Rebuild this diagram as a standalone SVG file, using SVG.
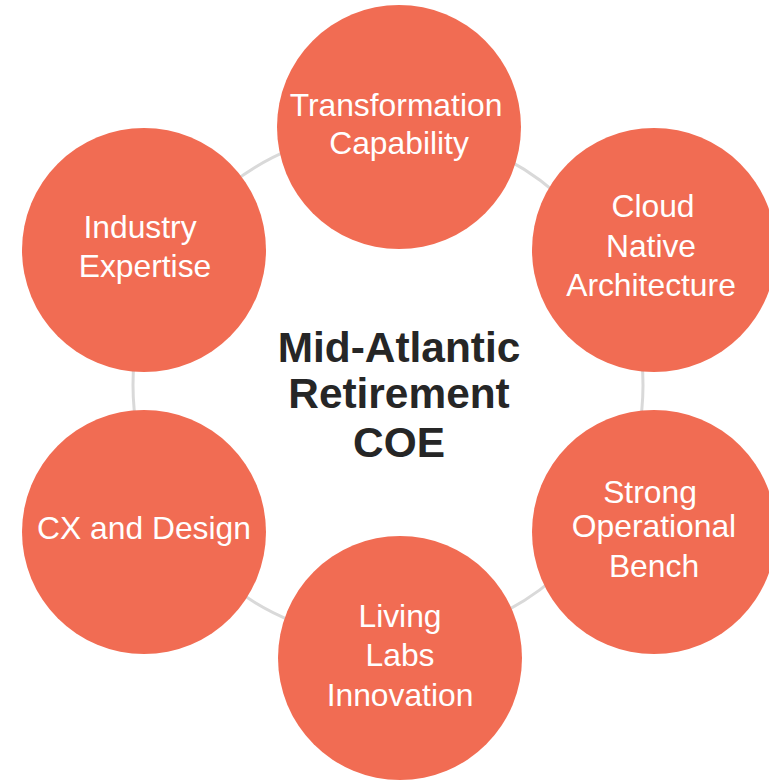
<svg xmlns="http://www.w3.org/2000/svg" width="769" height="781" viewBox="0 0 769 781">
  <style>
    .node { fill: #F16C53; }
    .label { font-family: "Liberation Sans", Arial, sans-serif; font-size: 31.8px; fill: #FFFFFF; text-anchor: middle; }
    .title { font-family: "Liberation Sans", Arial, sans-serif; font-size: 42.4px; font-weight: bold; fill: #262626; text-anchor: middle; }
    .ring { fill: none; stroke: #D9D9D9; stroke-width: 3; }
  </style>
  <rect width="769" height="781" fill="#FFFFFF"/>

  <!-- connecting ring behind the nodes -->
  <g id="connectors">
    <circle class="ring" cx="388" cy="385" r="255"/>
  </g>

  <g id="center">
    <text class="title" x="399" y="362">Mid-Atlantic</text>
    <text class="title" x="399" y="408">Retirement</text>
    <text class="title" x="399" y="457">COE</text>
  </g>

  <g id="transformation">
    <circle class="node" cx="399" cy="127" r="122"/>
    <text class="label" x="396" y="116">Transformation</text>
    <text class="label" x="399" y="154">Capability</text>
  </g>

  <g id="cloud">
    <circle class="node" cx="654" cy="250" r="122"/>
    <text class="label" x="653" y="217">Cloud</text>
    <text class="label" x="651" y="257">Native</text>
    <text class="label" x="651" y="296">Architecture</text>
  </g>

  <g id="operational">
    <circle class="node" cx="654" cy="532" r="122"/>
    <text class="label" x="650" y="503">Strong</text>
    <text class="label" x="654" y="537">Operational</text>
    <text class="label" x="654" y="577">Bench</text>
  </g>

  <g id="living-labs">
    <circle class="node" cx="400" cy="658" r="122"/>
    <text class="label" x="400" y="627">Living</text>
    <text class="label" x="400" y="666">Labs</text>
    <text class="label" x="400" y="706">Innovation</text>
  </g>

  <g id="cx-design">
    <circle class="node" cx="144" cy="532" r="122"/>
    <text class="label" x="144" y="539">CX and Design</text>
  </g>

  <g id="industry">
    <circle class="node" cx="144" cy="250" r="122"/>
    <text class="label" x="140" y="238">Industry</text>
    <text class="label" x="145" y="277">Expertise</text>
  </g>
</svg>
